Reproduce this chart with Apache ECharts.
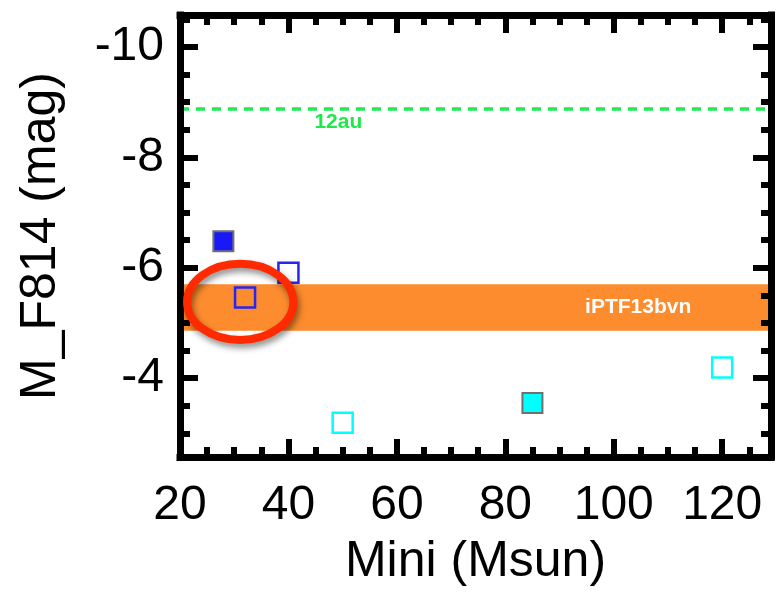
<!DOCTYPE html>
<html>
<head>
<meta charset="utf-8">
<script src="https://cdn.jsdelivr.net/npm/echarts@6/dist/echarts.min.js"></script>
<style>
  html, body { margin: 0; padding: 0; background: #fff; }
  #chart { width: 779px; height: 592px; }
</style>
</head>
<body>
<div id="chart"></div>
<script>
// Progenitor models: initial mass (Msun) vs absolute F814W magnitude
const filledBlue = [[28, -6.48]];
const openBlue = [[40, -5.91], [32, -5.46]];
const openCyan = [[50, -3.19], [120, -4.19]];
const filledCyan = [[85, -3.55]];

// Observed iPTF13bvn progenitor magnitude range, and the 12au limit
const iptfBand = [-5.70, -4.86];
const iptfLabel = [104.5, -5.28, 'iPTF13bvn'];
const limit12au = -8.89;
const label12au = [49.2, -8.64, '12au'];

// Highlight ring around the matching model: centre and radii in data units
const ringCenter = [31.1, -5.38];
const ringRadius = [9.8, 0.69];

const xRange = [20, 129];
const yRange = [-10.58, -2.57];

const FONT = '"Liberation Sans", Arial, Helvetica, sans-serif';
const frame = { color: '#000', width: 7, cap: 'square' };

function axisCommon(extra) {
  return Object.assign({
    type: 'value',
    z: 10,
    axisLine: { show: true, onZero: false, lineStyle: frame },
    axisTick: { show: true, inside: true, length: 18, lineStyle: { color: '#000', width: 6 } },
    minorTick: { show: true, splitNumber: 4, length: 10, lineStyle: { color: '#000', width: 6 } },
    splitLine: { show: false },
    axisLabel: {
      show: true, color: '#000', fontFamily: FONT, fontSize: 48,
      showMinLabel: false, showMaxLabel: false
    }
  }, extra);
}

const chart = echarts.init(document.getElementById('chart'), null, { renderer: 'canvas' });

const option = {
  animation: false,
  backgroundColor: '#fff',
  grid: { left: 180, right: 8, top: 15, bottom: 129 },
  xAxis: [
    axisCommon({
      position: 'bottom', min: xRange[0], max: xRange[1], splitNumber: 5,
      name: 'Mini (Msun)', nameLocation: 'middle', nameGap: 80,
      nameTextStyle: { color: '#000', fontFamily: FONT, fontSize: 50 },
      axisLabel: {
        show: true, color: '#000', fontFamily: FONT, fontSize: 48, margin: 25,
        showMinLabel: true, showMaxLabel: false
      }
    }),
    axisCommon({
      position: 'top', min: xRange[0], max: xRange[1], splitNumber: 5,
      axisLabel: { show: false }
    })
  ],
  yAxis: [
    axisCommon({
      position: 'left', inverse: true, min: yRange[0], max: yRange[1], splitNumber: 4,
      name: 'M_F814 (mag)', nameLocation: 'middle', nameGap: 114,
      nameTextStyle: { color: '#000', fontFamily: FONT, fontSize: 50 },
      axisLabel: {
        show: true, color: '#000', fontFamily: FONT, fontSize: 48, margin: 16,
        showMinLabel: false, showMaxLabel: false
      }
    }),
    axisCommon({
      position: 'right', inverse: true, min: yRange[0], max: yRange[1], splitNumber: 4,
      axisLabel: { show: false }
    })
  ],
  series: [
    {
      name: 'limits', type: 'scatter', z: 1, data: [],
      markArea: {
        silent: true,
        itemStyle: { color: '#fc8c2e', opacity: 1 },
        label: { show: false },
        data: [[{ yAxis: iptfBand[0] }, { yAxis: iptfBand[1] }]]
      },
      markLine: {
        silent: true, symbol: 'none',
        label: { show: false },
        lineStyle: { color: '#1eec50', width: 3.5, type: [9, 7], opacity: 1 },
        data: [{ yAxis: limit12au }]
      }
    },
    {
      name: 'filled blue', type: 'scatter', z: 3, symbol: 'rect', symbolSize: 20,
      itemStyle: { color: '#1818f8', borderColor: '#707070', borderWidth: 2, opacity: 1 },
      data: filledBlue
    },
    {
      name: 'open blue', type: 'scatter', z: 3, symbol: 'rect', symbolSize: 20,
      itemStyle: { color: 'rgba(0,0,0,0)', borderColor: '#2626f0', borderWidth: 2.5, opacity: 1 },
      data: openBlue
    },
    {
      name: 'open cyan', type: 'scatter', z: 3, symbol: 'rect', symbolSize: 20,
      itemStyle: { color: 'rgba(0,0,0,0)', borderColor: '#00ffff', borderWidth: 2.5, opacity: 1 },
      data: openCyan
    },
    {
      name: 'filled cyan', type: 'scatter', z: 3, symbol: 'rect', symbolSize: 20,
      itemStyle: { color: '#00ffff', borderColor: '#707070', borderWidth: 2, opacity: 1 },
      data: filledCyan
    },
    {
      name: 'labels', type: 'scatter', z: 4, symbolSize: 0, silent: true,
      itemStyle: { opacity: 1 },
      data: [
        {
          value: iptfLabel,
          label: {
            show: true, position: 'inside', formatter: iptfLabel[2],
            color: '#fff', fontFamily: FONT, fontWeight: 'bold', fontSize: 21
          }
        },
        {
          value: label12au,
          label: {
            show: true, position: 'inside', formatter: label12au[2],
            color: '#1ee84a', fontFamily: FONT, fontWeight: 'bold', fontSize: 21
          }
        }
      ]
    }
  ]
};

chart.setOption(option);

// Red highlight ring, placed through the axes' own scales
const c = chart.convertToPixel({ gridIndex: 0 }, ringCenter);
const rx = Math.abs(chart.convertToPixel({ xAxisIndex: 0 }, ringCenter[0] + ringRadius[0]) - c[0]);
const ry = Math.abs(chart.convertToPixel({ yAxisIndex: 0 }, ringCenter[1] + ringRadius[1]) - c[1]);
chart.setOption({
  graphic: [{
    type: 'ellipse', z: 20, silent: true,
    shape: { cx: c[0], cy: c[1], rx: rx, ry: ry },
    style: {
      fill: null, stroke: '#ff2a00', lineWidth: 8,
      shadowBlur: 6, shadowOffsetX: 2, shadowOffsetY: 4, shadowColor: 'rgba(0,0,0,0.45)'
    }
  }]
});
</script>
</body>
</html>
